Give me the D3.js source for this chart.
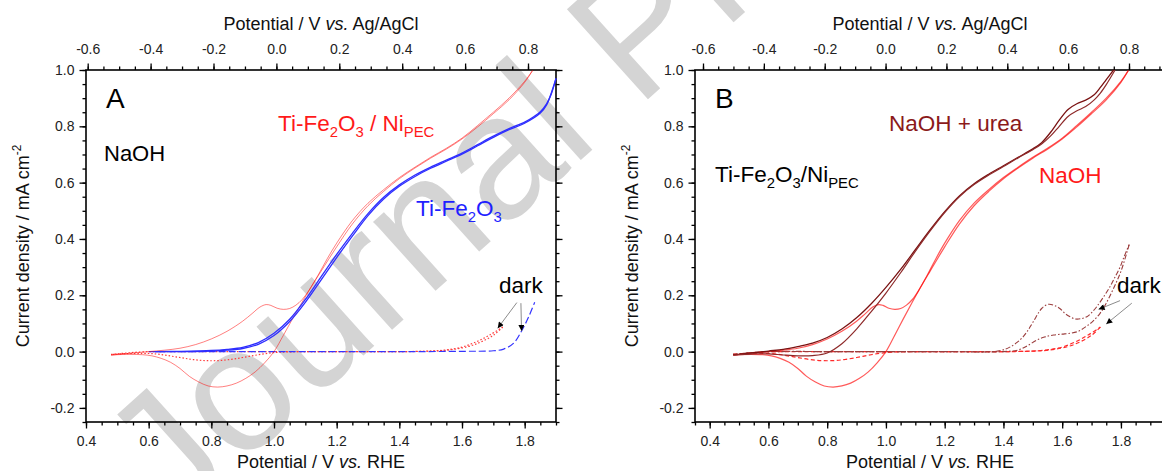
<!DOCTYPE html>
<html><head><meta charset="utf-8">
<script src="https://cdn.jsdelivr.net/npm/d3@7"></script>
<style>html,body{margin:0;padding:0;background:#fff;}svg{display:block;}</style>
</head><body>
<div id="chart"></div>
<script>
// ---------- DATA (potential E / V vs. RHE, current density J / mA cm-2) ----------
// Ti-Fe2O3/NiPEC in NaOH, illuminated (CV forward + reverse)
const niNaohLightFwdE = [0.48,0.52,0.56,0.60,0.65,0.70,0.75,0.80,0.85,0.90,0.93,0.955,0.975,0.99,1.01,1.03,1.05,1.07,1.09,1.11,1.14,1.17,1.20,1.25,1.30,1.35,1.40,1.45,1.50,1.55,1.60,1.65,1.70,1.75,1.80,1.825];
const niNaohLightFwdJ = [-0.012,-0.008,-0.004,0.000,0.005,0.012,0.025,0.045,0.072,0.108,0.135,0.158,0.167,0.164,0.154,0.150,0.153,0.165,0.185,0.215,0.270,0.330,0.385,0.465,0.527,0.575,0.618,0.655,0.690,0.722,0.758,0.803,0.850,0.900,0.960,0.998];
const niNaohLightRevE = [1.825,1.80,1.75,1.70,1.65,1.60,1.55,1.50,1.45,1.40,1.35,1.30,1.25,1.20,1.15,1.12,1.09,1.06,1.03,1.00,0.97,0.94,0.91,0.88,0.85,0.82,0.79,0.76,0.73,0.70,0.67,0.64,0.61,0.58,0.54,0.50,0.48];
const niNaohLightRevJ = [0.998,0.956,0.894,0.845,0.798,0.755,0.719,0.687,0.652,0.614,0.569,0.518,0.453,0.372,0.285,0.232,0.176,0.118,0.058,0.000,-0.040,-0.072,-0.095,-0.112,-0.122,-0.126,-0.122,-0.108,-0.088,-0.060,-0.038,-0.024,-0.015,-0.011,-0.010,-0.011,-0.013];
// Ti-Fe2O3/NiPEC in NaOH, dark
const niNaohDarkFwdE = [0.48,0.53,0.58,0.65,0.80,1.00,1.20,1.40,1.50,1.55,1.60,1.65,1.69,1.73];
const niNaohDarkFwdJ = [-0.010,-0.005,-0.001,0.000,0.000,0.000,0.000,0.000,0.002,0.006,0.016,0.037,0.060,0.087];
const niNaohDarkRevE = [1.73,1.70,1.66,1.62,1.56,1.48,1.30,1.10,1.02,0.98,0.94,0.90,0.86,0.82,0.78,0.74,0.70,0.66,0.62,0.58,0.53,0.48];
const niNaohDarkRevJ = [0.087,0.058,0.034,0.018,0.006,0.001,0.000,0.000,-0.002,-0.006,-0.013,-0.021,-0.028,-0.032,-0.032,-0.028,-0.021,-0.014,-0.008,-0.006,-0.007,-0.010];
// Ti-Fe2O3 in NaOH, illuminated
const feNaohLightFwdE = [0.62,0.70,0.80,0.85,0.90,0.95,1.00,1.05,1.10,1.15,1.20,1.25,1.30,1.35,1.40,1.45,1.50,1.55,1.60,1.65,1.70,1.75,1.80,1.83,1.85,1.87,1.885,1.895,1.90];
const feNaohLightFwdJ = [0.000,0.001,0.004,0.008,0.015,0.032,0.065,0.115,0.185,0.265,0.345,0.420,0.490,0.548,0.592,0.627,0.655,0.680,0.705,0.735,0.765,0.792,0.815,0.835,0.852,0.880,0.915,0.950,0.970];
const feNaohLightRevE = [1.90,1.89,1.87,1.85,1.80,1.75,1.70,1.65,1.60,1.55,1.50,1.45,1.40,1.35,1.30,1.25,1.20,1.15,1.10,1.05,1.00,0.95,0.90,0.85,0.80,0.70,0.62];
const feNaohLightRevJ = [0.970,0.935,0.876,0.847,0.811,0.788,0.761,0.731,0.701,0.676,0.651,0.622,0.587,0.542,0.483,0.410,0.334,0.254,0.175,0.107,0.057,0.026,0.011,0.005,0.002,0.000,0.000];
// Ti-Fe2O3 in NaOH, dark
const feNaohDarkE = [0.60,0.80,1.00,1.20,1.40,1.60,1.70,1.733,1.765,1.792,1.813,1.832];
const feNaohDarkJ = [0.000,0.000,0.000,0.000,0.000,0.001,0.003,0.009,0.030,0.077,0.124,0.175];
// Ti-Fe2O3/NiPEC in NaOH + urea, illuminated
const niUreaLightFwdE = [0.48,0.52,0.56,0.60,0.65,0.70,0.75,0.80,0.85,0.90,0.95,1.00,1.05,1.10,1.15,1.20,1.25,1.30,1.35,1.40,1.45,1.50,1.53,1.56,1.59,1.62,1.65,1.68,1.71,1.73,1.75,1.775];
const niUreaLightFwdJ = [-0.012,-0.007,-0.003,0.002,0.008,0.018,0.030,0.050,0.080,0.120,0.170,0.228,0.292,0.362,0.432,0.497,0.553,0.596,0.630,0.660,0.690,0.720,0.742,0.778,0.822,0.860,0.880,0.893,0.913,0.938,0.966,1.000];
const niUreaLightRevE = [1.78,1.75,1.73,1.71,1.68,1.65,1.62,1.59,1.56,1.53,1.50,1.45,1.40,1.35,1.30,1.25,1.20,1.15,1.10,1.05,1.00,0.95,0.90,0.85,0.80,0.75,0.70,0.65,0.60,0.55,0.48];
const niUreaLightRevJ = [1.000,0.948,0.918,0.895,0.870,0.855,0.835,0.800,0.765,0.737,0.717,0.688,0.657,0.627,0.593,0.550,0.494,0.428,0.356,0.280,0.208,0.142,0.080,0.028,-0.005,-0.014,-0.015,-0.012,-0.008,-0.008,-0.012];
// Ti-Fe2O3/NiPEC in NaOH + urea, dark
const niUreaDarkFwdE = [0.48,0.60,0.80,1.00,1.20,1.38,1.42,1.457,1.48,1.502,1.531,1.553,1.575,1.593,1.61,1.627,1.644,1.665,1.684,1.70,1.718,1.74,1.763,1.78,1.797,1.81,1.828];
const niUreaDarkFwdJ = [-0.010,0.000,0.000,0.000,0.000,0.002,0.015,0.042,0.070,0.107,0.154,0.168,0.163,0.152,0.135,0.124,0.116,0.117,0.124,0.138,0.160,0.193,0.231,0.265,0.300,0.335,0.380];
const niUreaDarkRevE = [1.828,1.80,1.775,1.75,1.729,1.705,1.684,1.655,1.627,1.60,1.571,1.54,1.514,1.48,1.451,1.40,1.20,1.00,0.80,0.60,0.48];
const niUreaDarkRevJ = [0.380,0.285,0.225,0.172,0.136,0.108,0.091,0.072,0.065,0.062,0.059,0.052,0.041,0.020,0.006,0.000,0.000,0.000,0.000,-0.001,-0.010];

// tick labels
const rheTicks = [0.4,0.6,0.8,1.0,1.2,1.4,1.6,1.8];
const agclTicks = [-0.6,-0.4,-0.2,0.0,0.2,0.4,0.6,0.8];
const jTicks = [-0.2,0.0,0.2,0.4,0.6,0.8,1.0];
// "dark" arrow anchors (data coords: [E, J])
const darkArrowsA = [[[1.775,0.174],[1.714,0.083]],[[1.788,0.172],[1.790,0.073]]];
const darkArrowsB = [[[1.797,0.181],[1.724,0.150]],[[1.837,0.172],[1.750,0.098]]];

// ---------- DRAWING ----------
const W = 1162, H = 471;
const FONT = "'Liberation Sans', Arial, Helvetica, sans-serif";
const svg = d3.select("#chart").append("svg").attr("width", W).attr("height", H)
  .attr("font-family", FONT);
svg.append("rect").attr("width", W).attr("height", H).attr("fill", "#fff");

// watermark
svg.append("text").text("Journal Pre-proof")
  .attr("transform", "translate(172,528) rotate(-42)")
  .attr("font-size", 176).attr("fill", "#d4d4d4");

const defs = svg.append("defs");
defs.append("marker").attr("id", "ah").attr("viewBox", "0 0 10 10")
  .attr("refX", 10).attr("refY", 5).attr("markerWidth", 8).attr("markerHeight", 6)
  .attr("markerUnits", "userSpaceOnUse").attr("orient", "auto")
  .append("path").attr("d", "M0,0 L10,5 L0,10 z").attr("fill", "#000");

function pairs(E, J) { return E.map((e, i) => [e, J[i]]); }

function richText(parent, x, y, segs, size, color, anchor) {
  const t = parent.append("text").attr("x", x).attr("y", y)
    .attr("font-size", size).attr("fill", color || "#000")
    .attr("text-anchor", anchor || "start");
  let cur = 0;
  segs.forEach(([str, kind]) => {
    const target = kind === "sub" ? size * 0.28 : kind === "sup" ? -size * 0.42 : 0;
    const ts = t.append("tspan").text(str).attr("dy", target - cur);
    if (kind === "sub" || kind === "sup") ts.attr("font-size", size * 0.66);
    if (kind === "it") ts.attr("font-style", "italic");
    cur = target;
  });
  return t;
}

const fmt = d => d.toFixed(1);

function panel(P) {
  const g = svg.append("g");
  const x = d3.scaleLinear().domain(P.xDom).range([P.L, P.R]);
  const y = d3.scaleLinear().domain([-0.25, 1.0]).range([422, 70]);
  const xt = d3.scaleLinear().domain([-0.6, 0.8]).range(P.topRange);
  const tDom = [xt.invert(P.L), xt.invert(P.R)];
  const minor = (a, b) => d3.range(Math.ceil(a / 0.05 - 1e-6), Math.floor(b / 0.05 + 1e-6) + 1).map(k => +(k * 0.05).toFixed(2));
  const xMinor = minor(P.xDom[0], P.xDom[1]);
  const tMinor = minor(tDom[0], tDom[1]);
  const yMinor = minor(-0.25, 1.0);
  const axStyle = sel => {
    sel.selectAll("path.domain").remove();
    sel.selectAll("line").attr("stroke", "#000").attr("stroke-width", 1.3);
    sel.selectAll("text").attr("font-size", 14).attr("fill", "#222").attr("font-family", FONT);
  };
  // minor ticks
  g.append("g").attr("transform", "translate(0,422)").call(d3.axisBottom(x).tickValues(xMinor).tickSize(3.5).tickFormat("")).call(axStyle);
  g.append("g").attr("transform", "translate(0,70)").call(d3.axisTop(xt).tickValues(tMinor).tickSize(3.5).tickFormat("")).call(axStyle);
  g.append("g").attr("transform", `translate(${P.L},0)`).call(d3.axisLeft(y).tickValues(yMinor).tickSize(3.5).tickFormat("")).call(axStyle);
  g.append("g").attr("transform", `translate(${P.R},0)`).call(d3.axisRight(y).tickValues(yMinor).tickSize(3.5).tickFormat("")).call(axStyle);
  // major ticks
  g.append("g").attr("transform", "translate(0,422)").call(d3.axisBottom(x).tickValues(rheTicks).tickSize(6.5).tickPadding(8).tickFormat(fmt)).call(axStyle);
  g.append("g").attr("transform", "translate(0,70)").call(d3.axisTop(xt).tickValues(agclTicks).tickSize(6.5).tickPadding(10).tickFormat(fmt)).call(axStyle);
  g.append("g").attr("transform", `translate(${P.L},0)`).call(d3.axisLeft(y).tickValues(jTicks).tickSize(6.5).tickPadding(5).tickFormat(fmt)).call(axStyle);
  g.append("g").attr("transform", `translate(${P.R},0)`).call(d3.axisRight(y).tickValues(jTicks).tickSize(6.5).tickFormat("")).call(axStyle);
  // frame
  g.append("rect").attr("x", P.L).attr("y", 70).attr("width", P.R - P.L).attr("height", 352)
    .attr("fill", "none").attr("stroke", "#000").attr("stroke-width", 1.6);

  // curves
  const line = d3.line().x(d => x(d[0])).y(d => y(d[1])).curve(d3.curveCatmullRom.alpha(0.5));
  P.series.forEach(s => {
    g.append("path").attr("d", line(pairs(s.E, s.J))).attr("fill", "none")
      .attr("stroke", s.color).attr("stroke-width", s.w)
      .attr("stroke-dasharray", s.dash || null)
      .attr("stroke-linejoin", "round");
  });
  // arrows
  P.arrows.forEach(([a, b]) => {
    g.append("line").attr("x1", x(a[0])).attr("y1", y(a[1])).attr("x2", x(b[0])).attr("y2", y(b[1]))
      .attr("stroke", "#8c8c8c").attr("stroke-width", 1).attr("marker-end", "url(#ah)");
  });

  // axis titles
  const cx = (P.L + P.R) / 2;
  richText(g, cx, 30, [["Potential / V "], ["vs.", "it"], [" Ag/AgCl"]], 18, "#111", "middle");
  richText(g, cx, 467.5, [["Potential / V "], ["vs.", "it"], [" RHE"]], 18, "#111", "middle");
  const yt = g.append("g").attr("transform", `translate(${P.L - 57},246) rotate(-90)`);
  richText(yt, 0, 0, [["Current density / mA cm"], ["-2", "sup"]], 18, "#111", "middle");
  return {g, x, y};
}

// Panel A
const A = panel({
  xDom: [0.4, 1.9], L: 86, R: 556, topRange: [87.7, 528],
  series: [
    {E: niNaohDarkFwdE, J: niNaohDarkFwdJ, color: "#ff3b3b", w: 1.2, dash: "1.5,2"},
    {E: niNaohDarkRevE, J: niNaohDarkRevJ, color: "#ff3b3b", w: 1.2, dash: "1.5,2"},
    {E: feNaohDarkE, J: feNaohDarkJ, color: "#3434ff", w: 1.2, dash: "7,3"},
    {E: niNaohLightFwdE, J: niNaohLightFwdJ, color: "rgba(255,0,0,0.5)", w: 1},
    {E: niNaohLightRevE, J: niNaohLightRevJ, color: "rgba(255,0,0,0.5)", w: 1},
    {E: feNaohLightFwdE, J: feNaohLightFwdJ, color: "#2e2eff", w: 1.3},
    {E: feNaohLightRevE, J: feNaohLightRevJ, color: "#2e2eff", w: 1.3}
  ],
  arrows: darkArrowsA
});
richText(A.g, 106, 108, [["A"]], 28, "#000");
richText(A.g, 104, 161, [["NaOH"]], 22, "#000");
richText(A.g, 278, 131, [["Ti-Fe"], ["2", "sub"], ["O"], ["3", "sub"], [" / Ni"], ["PEC", "sub"]], 22.5, "#ff1a1a");
richText(A.g, 416, 216, [["Ti-Fe"], ["2", "sub"], ["O"], ["3", "sub"]], 22.5, "#1f1fff");
richText(A.g, 499, 293, [["dark"]], 22.5, "#000");

// Panel B
const B = panel({
  xDom: [0.35, 1.95], L: 695, R: 1165, topRange: [703, 1129],
  series: [
    {E: niNaohDarkFwdE, J: niNaohDarkFwdJ, color: "#ff2a2a", w: 1.2, dash: "4,2.5"},
    {E: niNaohDarkRevE, J: niNaohDarkRevJ, color: "#ff2a2a", w: 1.2, dash: "4,2.5"},
    {E: niUreaDarkFwdE, J: niUreaDarkFwdJ, color: "#9b3d3d", w: 1.1, dash: "5,2,1.5,2"},
    {E: niUreaDarkRevE, J: niUreaDarkRevJ, color: "#9b3d3d", w: 1.1, dash: "5,2,1.5,2"},
    {E: niNaohLightFwdE, J: niNaohLightFwdJ, color: "rgba(255,0,0,0.65)", w: 1.2},
    {E: niNaohLightRevE, J: niNaohLightRevJ, color: "rgba(255,0,0,0.65)", w: 1.2},
    {E: niUreaLightFwdE, J: niUreaLightFwdJ, color: "#7a1212", w: 1.3},
    {E: niUreaLightRevE, J: niUreaLightRevJ, color: "#8e2a2a", w: 1.2}
  ],
  arrows: darkArrowsB
});
richText(B.g, 715, 108, [["B"]], 28, "#000");
richText(B.g, 715, 182, [["Ti-Fe"], ["2", "sub"], ["O"], ["3", "sub"], ["/Ni"], ["PEC", "sub"]], 22.5, "#000");
richText(B.g, 889, 131, [["NaOH + urea"]], 22.5, "#8b1a1a");
richText(B.g, 1039, 183, [["NaOH"]], 22.5, "#ff1a1a");
richText(B.g, 1117, 293, [["dark"]], 22.5, "#000");
</script>
</body></html>
